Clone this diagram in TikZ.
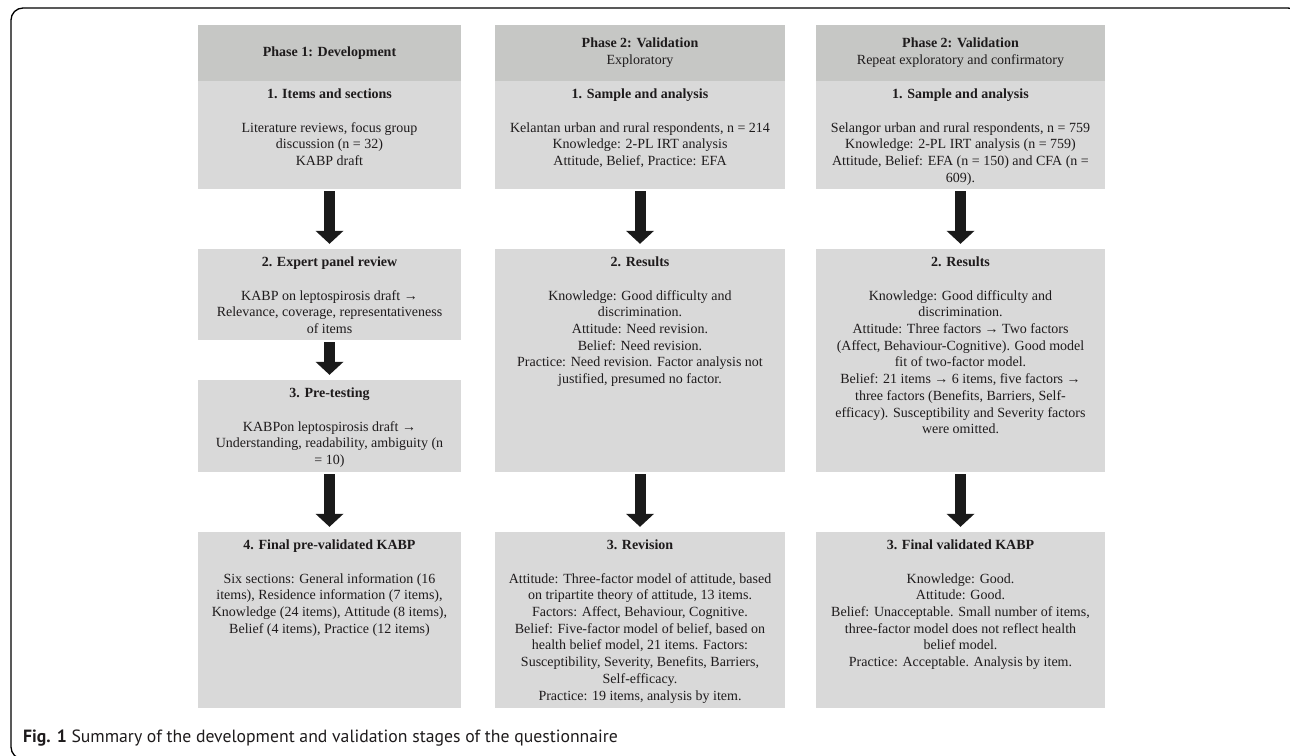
\documentclass[tikz,border=0pt]{standalone}
\usepackage{fontspec}
\setmainfont{Liberation Serif}
\newfontfamily\captionfont{PT Sans}
\usetikzlibrary{arrows.meta}
\definecolor{headgray}{RGB}{198,199,197}
\definecolor{boxgray}{RGB}{217,217,217}
\definecolor{inkgray}{RGB}{30,27,28}
\definecolor{arrowblack}{RGB}{26,26,26}

\begin{document}
\begin{tikzpicture}[x=1pt, y=-1pt,
        headnode/.style={rectangle, fill=headgray, minimum height=56pt, inner sep=0pt, align=center, text=inkgray, font=\fontsize{14}{16.7}\selectfont},
        boxnode/.style={rectangle, fill=boxgray, inner sep=0pt},
        textnode/.style={anchor=north, inner xsep=0pt, inner ysep=8pt, align=center, text=inkgray, font=\fontsize{14}{16.7}\selectfont},
        blockarrow/.style={arrowblack, line width=11pt, -{Triangle[width=28pt, length=13pt, line width=0pt]}, shorten <=2pt, shorten >=5pt},
        frameline/.style={line width=1.3pt, rounded corners=12pt},
        ]

        \useasboundingbox (0,0) rectangle (1290,755);
        \draw[frameline] (40,759) -- (11,759) -- (11,8) -- (1300,8) -- (1300,40);

        % Nodes
        \node[headnode, minimum width=263pt] (dev-head) at (329.5,53) {\textbf{Phase 1: Development}};
        \node[boxnode, minimum width=263pt, minimum height=108pt] (dev-items) at (329.5,135) {};
        \node[boxnode, minimum width=263pt, minimum height=91pt]  (dev-expert) at (329.5,294.5) {};
        \node[boxnode, minimum width=263pt, minimum height=92pt]  (dev-pretest) at (329.5,426) {};
        \node[boxnode, minimum width=263pt, minimum height=176pt] (dev-final) at (329.5,620) {};

        \node[headnode, minimum width=290pt] (expl-head) at (640,53) {\textbf{Phase 2: Validation}\\Exploratory};
        \node[boxnode, minimum width=290pt, minimum height=108pt] (expl-sample) at (640,135) {};
        \node[boxnode, minimum width=290pt, minimum height=223pt] (expl-results) at (640,360.5) {};
        \node[boxnode, minimum width=290pt, minimum height=176pt] (expl-revision) at (640,620) {};

        \node[headnode, minimum width=289pt] (conf-head) at (960.5,53) {\textbf{Phase 2: Validation}\\Repeat exploratory and confirmatory};
        \node[boxnode, minimum width=289pt, minimum height=108pt] (conf-sample) at (960.5,135) {};
        \node[boxnode, minimum width=289pt, minimum height=223pt] (conf-results) at (960.5,360.5) {};
        \node[boxnode, minimum width=289pt, minimum height=176pt] (conf-final) at (960.5,620) {};

        % Texts
        \node[textnode] (dev-items-txt) at (dev-items.north) {\textbf{1. Items and sections}\\[16.7pt]
            Literature reviews, focus group\\discussion (n = 32)\\KABP draft};
        \node[textnode] (dev-expert-txt) at (dev-expert.north) {\textbf{2. Expert panel review}\\[16.7pt]
            KABP on leptospirosis draft →\\Relevance, coverage, representativeness\\of items};
        \node[textnode] (dev-pretest-txt) at (dev-pretest.north) {\textbf{3. Pre-testing}\\[16.7pt]
            KABPon leptospirosis draft →\\Understanding, readability, ambiguity (n\\= 10)};
        \node[textnode] (dev-final-txt) at (dev-final.north) {\textbf{4. Final pre-validated KABP}\\[16.7pt]
            Six sections: General information (16\\items), Residence information (7 items),\\Knowledge (24 items), Attitude (8 items),\\Belief (4 items), Practice (12 items)};

        \node[textnode] (expl-sample-txt) at (expl-sample.north) {\textbf{1. Sample and analysis}\\[16.7pt]
            Kelantan urban and rural respondents, n = 214\\Knowledge: 2-PL IRT analysis\\Attitude, Belief, Practice: EFA};
        \node[textnode] (expl-results-txt) at (expl-results.north) {\textbf{2. Results}\\[16.7pt]
            Knowledge: Good difficulty and\\discrimination.\\Attitude: Need revision.\\Belief: Need revision.\\
            Practice: Need revision. Factor analysis not\\justified, presumed no factor.};
        \node[textnode] (expl-revision-txt) at (expl-revision.north) {\textbf{3. Revision}\\[16.7pt]
            Attitude: Three-factor model of attitude, based\\on tripartite theory of attitude, 13 items.\\
            Factors: Affect, Behaviour, Cognitive.\\Belief: Five-factor model of belief, based on\\
            health belief model, 21 items. Factors:\\Susceptibility, Severity, Benefits, Barriers,\\
            Self-efficacy.\\Practice: 19 items, analysis by item.};

        \node[textnode] (conf-sample-txt) at (conf-sample.north) {\textbf{1. Sample and analysis}\\[16.7pt]
            Selangor urban and rural respondents, n = 759\\Knowledge: 2-PL IRT analysis (n = 759)\\
            Attitude, Belief: EFA (n = 150) and CFA (n =\\609).};
        \node[textnode] (conf-results-txt) at (conf-results.north) {\textbf{2. Results}\\[16.7pt]
            Knowledge: Good difficulty and\\discrimination.\\Attitude: Three factors → Two factors\\
            (Affect, Behaviour-Cognitive). Good model\\fit of two-factor model.\\
            Belief: 21 items → 6 items, five factors →\\three factors (Benefits, Barriers, Self-\\
            efficacy). Susceptibility and Severity factors\\were omitted.};
        \node[textnode] (conf-final-txt) at (conf-final.north) {\textbf{3. Final validated KABP}\\[16.7pt]
            Knowledge: Good.\\Attitude: Good.\\Belief: Unacceptable. Small number of items,\\
            three-factor model does not reflect health\\belief model.\\Practice: Acceptable. Analysis by item.};

        \node[anchor=base west, inner sep=0pt, text=inkgray, font=\captionfont\fontsize{17.7}{20}\selectfont] (caption) at (23,742)
            {\textbf{Fig. 1} Summary of the development and validation stages of the questionnaire};

        % Arrows
        \draw[blockarrow] (dev-items) -- (dev-expert);
        \draw[blockarrow] (dev-expert) -- (dev-pretest);
        \draw[blockarrow] (dev-pretest) -- (dev-final);
        \draw[blockarrow] (expl-sample) -- (expl-results);
        \draw[blockarrow] (expl-results) -- (expl-revision);
        \draw[blockarrow] (conf-sample) -- (conf-results);
        \draw[blockarrow] (conf-results) -- (conf-final);

    \end{tikzpicture}
\end{document}
